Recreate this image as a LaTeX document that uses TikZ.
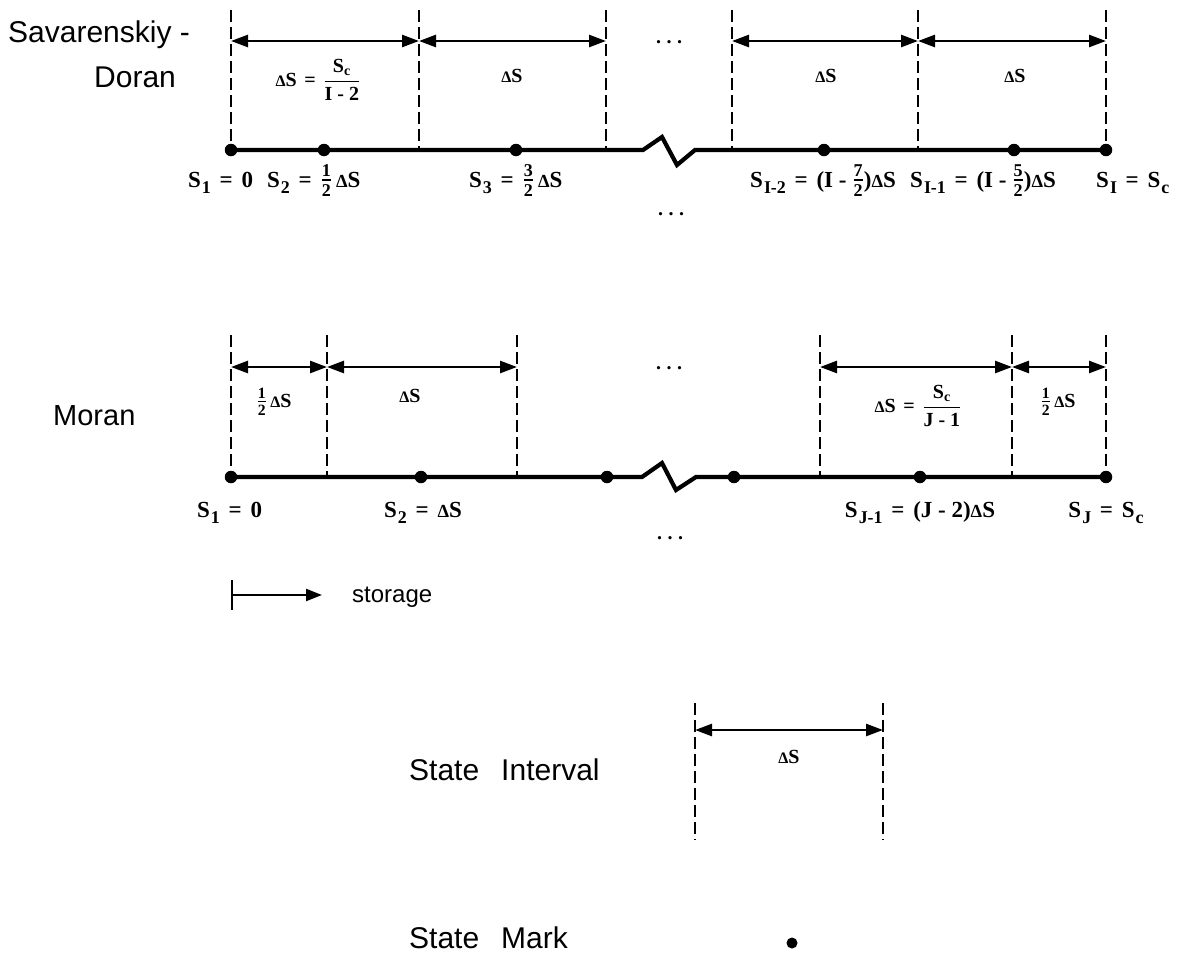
\documentclass[tikz,border=0pt]{standalone}
\usepackage{fontspec}
\usepackage{amsmath}
\usepackage{graphicx}
\setmainfont{Liberation Serif}
\setsansfont{Liberation Sans}
\usetikzlibrary{arrows.meta}
\newcommand\dlt{\scalebox{0.8}{Δ}}
\newcommand\dS{\dlt S}
\newcommand\tfr[2]{\scalebox{1.12}{$\tfrac{\text{#1}}{\text{#2}}$}}
\newcommand\dfr[2]{$\dfrac{\text{#1}}{\text{#2}}$}
\newcommand\sub[1]{\hspace{1pt}\raisebox{-6pt}{\scalebox{0.78}{#1}}}
\newcommand\isub[1]{$_{\text{#1}}$}
\newcommand\eqs{\hspace{0.38em}=\hspace{0.38em}}
\newcommand\tdots{.\hspace{5.5pt}.\hspace{5.5pt}.}
\tikzset{
  dsh/.style={line width=1.9pt, dash pattern=on 12pt off 5pt},
  tipx/.tip={Triangle[length=17pt,width=12pt]},
  dim/.style={line width=2.6pt, tipx-tipx},
  base/.style={line width=4.2pt, line join=miter},
  mk/.style={circle, fill=black, inner sep=0pt, minimum size=12.5pt},
  lbl/.style={font=\fontsize{23}{27}\selectfont\bfseries, inner sep=0pt, anchor=base west},
  ilbl/.style={font=\fontsize{20}{24}\selectfont\bfseries, inner sep=0pt},
  dotsn/.style={font=\fontsize{20}{24}\selectfont\bfseries, inner sep=0pt, anchor=base},
  sans/.style={font=\fontsize{30}{34}\selectfont\sffamily, inner sep=0pt, anchor=base west}
}
\begin{document}
\begin{tikzpicture}[x=1pt,y=-1pt]
\useasboundingbox (0,0) rectangle (1183,954);
% ---------- Savarenskiy - Doran ----------
\node[sans] (tit1) at (8,42) {Savarenskiy -};
\node[sans] (tit2) at (94,87) {Doran};
\foreach [count=\i] \x in {231,419,606,732,918,1106} {
  \coordinate (tu\i) at (\x,10);
  \coordinate (td\i) at (\x,150);
  \coordinate (tm\i) at (\x,41);
  \draw[dsh] (tu\i) -- (td\i);
}
\draw[dim] (tm1) -- (tm2);
\draw[dim] (tm2) -- (tm3);
\draw[dim] (tm4) -- (tm5);
\draw[dim] (tm5) -- (tm6);
\coordinate (tz1) at (643,150);
\coordinate (tz2) at (662,137);
\coordinate (tz3) at (677,165);
\coordinate (tz4) at (695,150);
\draw[base] (td1) -- (tz1) -- (tz2) -- (tz3) -- (tz4) -- (td6);
\foreach [count=\i] \x in {231,324,516,824,1014,1106} {
  \node[mk] (ta\i) at (\x,150) {};
}
\node[ilbl] (ti1) at (318,80) {\dS\eqs\dfr{S\isub{c}}{I - 2}};
\node[ilbl] (ti2) at (512,76) {\dS};
\node[ilbl] (ti4) at (826,76) {\dS};
\node[ilbl] (ti5) at (1015,76) {\dS};
\node[dotsn] (tdt1) at (669,43) {\tdots};
\node[dotsn] (tdt2) at (671,215) {\tdots};
\node[lbl] (tl1) at (188,187) {S\sub{1}\eqs 0};
\node[lbl] (tl2) at (267,187) {S\sub{2}\eqs\tfr{1}{2}\,\dS};
\node[lbl] (tl3) at (469,187) {S\sub{3}\eqs\tfr{3}{2}\,\dS};
\node[lbl] (tl4) at (750,187) {S\sub{I-2}\eqs(I - \tfr{7}{2})\dS};
\node[lbl] (tl5) at (910,187) {S\sub{I-1}\eqs(I - \tfr{5}{2})\dS};
\node[lbl] (tl6) at (1096,187) {S\sub{I}\eqs S\sub{c}};
% ---------- Moran ----------
\node[sans, font=\fontsize{29}{34}\selectfont\sffamily] (tit3) at (53,425) {Moran};
\foreach [count=\i] \x in {231,327,517,820,1012,1106} {
  \coordinate (mu\i) at (\x,335);
  \coordinate (md\i) at (\x,477);
  \coordinate (mm\i) at (\x,367);
  \draw[dsh] (mu\i) -- (md\i);
}
\draw[dim] (mm1) -- (mm2);
\draw[dim] (mm2) -- (mm3);
\draw[dim] (mm4) -- (mm5);
\draw[dim] (mm5) -- (mm6);
\coordinate (mz1) at (642,477);
\coordinate (mz2) at (662,463);
\coordinate (mz3) at (676,490);
\coordinate (mz4) at (696,477);
\draw[base] (md1) -- (mz1) -- (mz2) -- (mz3) -- (mz4) -- (md6);
\foreach [count=\i] \x in {231,421,607,734,920,1106} {
  \node[mk] (ma\i) at (\x,477) {};
}
\node[ilbl] (mi1) at (274,402) {\tfr{1}{2}\,\dS};
\node[ilbl] (mi2) at (410,396) {\dS};
\node[ilbl] (mi4) at (918,406) {\dS\eqs\dfr{S\isub{c}}{J - 1}};
\node[ilbl] (mi5) at (1058,402) {\tfr{1}{2}\,\dS};
\node[dotsn] (mdt1) at (669,369) {\tdots};
\node[dotsn] (mdt2) at (670,539) {\tdots};
\node[lbl] (ml1) at (197,517) {S\sub{1}\eqs 0};
\node[lbl] (ml2) at (384,517) {S\sub{2}\eqs\dS};
\node[lbl, anchor=base] (ml3) at (920,517) {S\sub{J-1}\eqs(J - 2)\dS};
\node[lbl, anchor=base] (ml4) at (1106,517) {S\sub{J}\eqs S\sub{c}};
% ---------- storage axis ----------
\coordinate (sta) at (232,580);
\coordinate (stb) at (232,610);
\coordinate (st0) at (232,595);
\coordinate (st1) at (322,595);
\draw[line width=2.2pt] (sta) -- (stb);
\draw[line width=2.2pt, -{Triangle[length=16pt,width=12pt]}] (st0) -- (st1);
\node[sans, font=\fontsize{24}{28}\selectfont\sffamily] (stl) at (352,602) {storage};
% ---------- legend ----------
\coordinate (lu1) at (695,703);
\coordinate (ld1) at (695,840);
\coordinate (lu2) at (883,703);
\coordinate (ld2) at (883,840);
\coordinate (lm1) at (695,730);
\coordinate (lm2) at (883,730);
\draw[dsh] (lu1) -- (ld1);
\draw[dsh] (lu2) -- (ld2);
\draw[dim] (lm1) -- (lm2);
\node[ilbl] (lds) at (789,757) {\dS};
\node[sans] (leg1) at (409,780) {State\hspace{22pt}Interval};
\node[sans] (leg2) at (409,948) {State\hspace{22pt}Mark};
\node[mk, minimum size=11pt] (legdot) at (792,943) {};
\end{tikzpicture}
\end{document}
